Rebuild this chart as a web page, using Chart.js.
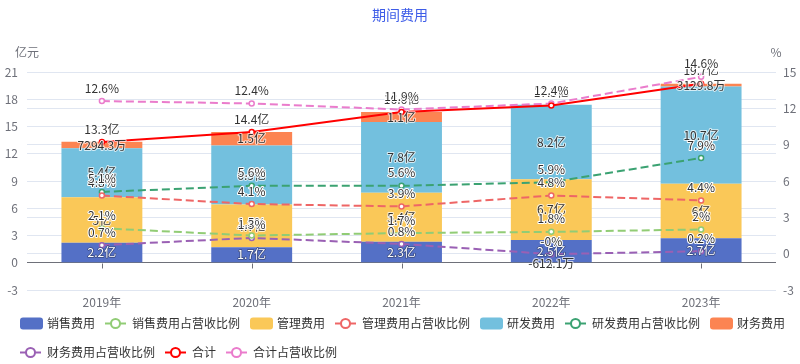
<!DOCTYPE html>
<html><head><meta charset="utf-8">
<script src="https://cdn.jsdelivr.net/npm/chart.js@4/dist/chart.umd.min.js"></script>
<style>html,body{margin:0;padding:0;background:#fff}</style>
</head><body>
<canvas id="c" width="800" height="364"></canvas>
<script>
// ---- data (亿元 / %) ----
const categories = ['2019年','2020年','2021年','2022年','2023年'];
const salesExpense   = [2.2, 1.7, 2.3, 2.5, 2.7];
const salesRatio     = [2.1, 1.5, 1.7, 1.8, 2.0];
const adminExpense   = [5.0, 4.7, 5.4, 6.7, 6.0];
const adminRatio     = [4.8, 4.1, 3.9, 4.8, 4.4];
const rdExpense      = [5.4, 6.5, 7.8, 8.2, 10.7];
const rdRatio        = [5.1, 5.6, 5.6, 5.9, 7.9];
const financeExpense = [0.72943, 1.5, 1.1, -0.06121, 0.31298];
const financeRatio   = [0.7, 1.3, 0.8, -0.04, 0.2];
const totalExpense   = [13.3, 14.4, 16.6, 17.3, 19.7];
const totalRatio     = [12.6, 12.4, 11.9, 12.4, 14.6];
const leftTicks  = [-3, 0, 3, 6, 9, 12, 15, 18, 21];
const rightTicks = [-3, 0, 3, 6, 9, 12, 15];
const leftAxisName = '亿元';
const rightAxisName = '%';
const chartTitle = '期间费用';

const FONT = '"Noto Sans CJK SC", "Noto Sans", sans-serif';

function fmtNum(v){ const r = Math.round(v*10)/10; if (Object.is(r,-0)) return '-0'; return String(r); }
function fmtAmount(v){ return Math.abs(v) < 1 ? fmtNum(v*10000)+'万' : fmtNum(v)+'亿'; }
function fmtPct(v){ return fmtNum(v)+'%'; }

function barDS(label, data, color, lbl){
  return {type:'bar', label, data, backgroundColor:color, yAxisID:'y', stack:'bars', order:10,
    categoryPercentage:1, barPercentage:0.54, kind:'bar', fmt:fmtAmount, lbl};
}
function lineDS(label, data, color, axis, dashed, fmt){
  return {type:'line', label, data, borderColor:color, backgroundColor:'#fff', borderWidth:2,
    borderDash: dashed ? [8,4] : [], pointRadius:2.5, pointBorderWidth:1.5,
    pointBackgroundColor:'#fff', pointBorderColor:color, yAxisID:axis, stack:'line_'+label,
    order:0, tension:0, fill:false, kind:'line', fmt,
    lbl:{fill:'#333', stroke:'#fff', sw:2}};
}
const darkLbl = {fill:'#333', stroke:'rgba(255,255,255,0.7)', sw:2};
const datasets = [
  barDS('销售费用', salesExpense, '#5470c6', {fill:'#fff', stroke:'#3a4a80', sw:1.5}),
  lineDS('销售费用占营收比例', salesRatio, '#91cc75', 'y1', true, fmtPct),
  barDS('管理费用', adminExpense, '#fac858', darkLbl),
  lineDS('管理费用占营收比例', adminRatio, '#ee6666', 'y1', true, fmtPct),
  barDS('研发费用', rdExpense, '#73c0de', darkLbl),
  lineDS('研发费用占营收比例', rdRatio, '#3ba272', 'y1', true, fmtPct),
  barDS('财务费用', financeExpense, '#fc8452', darkLbl),
  lineDS('财务费用占营收比例', financeRatio, '#9a60b4', 'y1', true, fmtPct),
  lineDS('合计', totalExpense, '#ff0000', 'y', false, fmtAmount),
  lineDS('合计占营收比例', totalRatio, '#ea7ccc', 'y1', true, fmtPct)
];

function drawText(ctx, t, x, y, s){
  ctx.font = '12px ' + FONT;
  ctx.textAlign = 'center'; ctx.textBaseline = 'middle'; ctx.lineJoin = 'round';
  if (s.stroke){ ctx.strokeStyle = s.stroke; ctx.lineWidth = s.sw; ctx.strokeText(t, x, y); }
  ctx.fillStyle = s.fill; ctx.fillText(t, x, y);
}

// layout targets (pixels)
const LEGEND_SHIFT_X = 10, LEGEND_TOP = 304, LEGEND_HEIGHT = 60, PLOT_BOTTOM = 290;
const extras = {
  id:'extras',
  afterUpdate(chart){
    const lg = chart.legend; if (!lg) return;
    const dx = LEGEND_SHIFT_X, dy = LEGEND_TOP - lg.top;
    lg.left += dx; lg.right += dx; lg.top += dy;
    lg.height = LEGEND_HEIGHT; lg.bottom = lg.top + LEGEND_HEIGHT;
    (lg.legendHitBoxes || []).forEach(h => { h.left += dx; h.top += dy; });
  },
  afterDatasetsDraw(chart){
    const ctx = chart.ctx, xs = chart.scales.x, ys = chart.scales.y, ca = chart.chartArea;
    ctx.save();
    const y0 = Math.round(ys.getPixelForValue(0)) + 0.5;
    ctx.strokeStyle = '#6e7079'; ctx.lineWidth = 1;
    categories.forEach((c,i)=>{
      const px = Math.round(xs.getPixelForValue(i)) + 0.5;
      ctx.beginPath(); ctx.moveTo(px, y0); ctx.lineTo(px, y0+5); ctx.stroke();
    });
    ctx.font = '12px ' + FONT; ctx.fillStyle = '#6e7079'; ctx.textAlign='center'; ctx.textBaseline='middle';
    ctx.fillText(leftAxisName, ca.left, 52);
    ctx.fillText(rightAxisName, ca.right, 52);
    chart.data.datasets.forEach((ds, di)=>{
      if (ds.kind !== 'bar') return;
      chart.getDatasetMeta(di).data.forEach((el, i)=>{
        drawText(ctx, ds.fmt(ds.data[i]), el.x, (el.y + el.base)/2, ds.lbl);
      });
    });
    chart.data.datasets.forEach((ds, di)=>{
      if (ds.kind !== 'line') return;
      chart.getDatasetMeta(di).data.forEach((el, i)=>{
        drawText(ctx, ds.fmt(ds.data[i]), el.x, el.y - 13, ds.lbl);
      });
    });
    ctx.restore();
  },
  afterDraw(chart){
    const lg = chart.legend; if (!lg || !lg.legendHitBoxes) return;
    const ctx = chart.ctx; ctx.save();
    lg.legendHitBoxes.forEach((hb, i)=>{
      const ds = chart.data.datasets[i];
      const cy = hb.top + hb.height/2, l = hb.left, w = 21;
      if (ds.kind === 'bar'){
        ctx.fillStyle = ds.backgroundColor;
        ctx.beginPath();
        if (ctx.roundRect) ctx.roundRect(l, cy-6, w+2, 12, 3); else ctx.rect(l, cy-6, w+2, 12);
        ctx.fill();
      } else {
        ctx.strokeStyle = ds.borderColor; ctx.lineWidth = 2; ctx.setLineDash([]);
        ctx.beginPath(); ctx.moveTo(l, cy); ctx.lineTo(l+w, cy); ctx.stroke();
        ctx.fillStyle = '#fff';
        ctx.beginPath(); ctx.arc(l + w/2, cy, 4.5, 0, Math.PI*2); ctx.fill(); ctx.stroke();
      }
    });
    ctx.restore();
  }
};

new Chart(document.getElementById('c'), {
  type:'bar',
  data:{ labels: categories, datasets },
  plugins:[extras],
  options:{
    responsive:false, animation:false, devicePixelRatio:1,
    layout:{ padding:{left:0, right:0, top:0, bottom:0} },
    plugins:{
      tooltip:{enabled:false},
      title:{ display:true, text:chartTitle, color:'#3d5ce8',
        font:{size:14, weight:'normal', family:FONT}, padding:{top:6.6, bottom:48.6} },
      legend:{ position:'bottom', align:'start', maxHeight:44,
        labels:{ boxWidth:21, boxHeight:19, padding:10, color:'#333',
          font:{size:12, family:FONT},
          generateLabels(chart){
            return chart.data.datasets.map((ds,i)=>({ text: ds.label, fillStyle:'rgba(0,0,0,0)',
              strokeStyle:'rgba(0,0,0,0)', lineWidth:0, hidden:false, datasetIndex:i, fontColor:'#333' }));
          } } }
    },
    scales:{
      x:{ grid:{display:false, drawTicks:false}, border:{display:false},
        ticks:{ color:'#6e7079', font:{size:12, family:FONT}, padding:5 },
        afterFit(s){ const lg = s.chart.legend; s.height = s.chart.height - PLOT_BOTTOM - (lg ? lg.height : 0); } },
      y:{ position:'left', stacked:true, min:leftTicks[0], max:leftTicks[leftTicks.length-1],
        border:{display:false},
        grid:{ drawTicks:false, color:(c)=> c.tick && c.tick.value === 0 ? '#6e7079' : '#e0e6f1' },
        ticks:{ stepSize: leftTicks[1]-leftTicks[0], color:'#6e7079', font:{size:12, family:FONT}, padding:9 },
        afterFit(s){ s.width = 27; } },
      y1:{ position:'right', stacked:false, min:rightTicks[0], max:rightTicks[rightTicks.length-1],
        border:{display:false},
        grid:{ drawTicks:false, color:'#e0e6f1' },
        ticks:{ stepSize: rightTicks[1]-rightTicks[0], color:'#6e7079', font:{size:12, family:FONT}, padding:7 },
        afterFit(s){ s.width = 24; } }
    }
  }
});
</script>
</body></html>
